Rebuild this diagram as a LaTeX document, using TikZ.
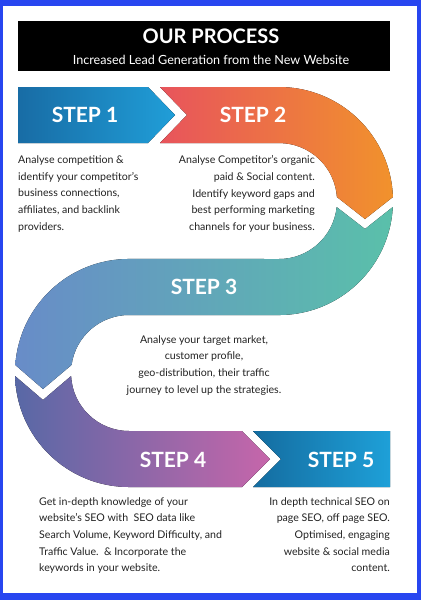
\documentclass[tikz,border=0pt]{standalone}
\usepackage{fontspec}
\setmainfont{Lato}
\definecolor{frameblue}{RGB}{40,70,240}
\definecolor{desctext}{RGB}{34,34,34}
\definecolor{onedark}{RGB}{24,108,165}
\definecolor{onelight}{RGB}{32,158,216}
\definecolor{twored}{RGB}{232,84,92}
\definecolor{twoorange}{RGB}{241,146,44}
\definecolor{threeblue}{RGB}{104,140,200}
\definecolor{threeteal}{RGB}{90,192,170}
\definecolor{fourblue}{RGB}{88,104,166}
\definecolor{fourpink}{RGB}{198,102,170}
\definecolor{fivedark}{RGB}{20,108,160}
\definecolor{fivelight}{RGB}{30,160,216}
\tikzset{
  titletext/.style={text=white,font=\bfseries\fontsize{20}{20}\selectfont,inner sep=0pt},
  subtext/.style={text=white,font=\fontsize{12.6}{12.6}\selectfont,inner sep=0pt},
  steplabel/.style={text=white,font=\bfseries\fontsize{21}{21}\selectfont,inner sep=0pt},
  desc/.style={text=desctext,font=\fontsize{10.6}{16.7}\selectfont,inner sep=0pt}
}

\begin{document}
\begin{tikzpicture}[x=1pt,y=1pt]
\useasboundingbox (0,0) rectangle (421,-600);
\fill[frameblue] (0,0) rectangle (421,-600);
\fill[white] (3,-6) rectangle (417,-593);

% heading
\fill[black] (18,-21) rectangle (390,-71);
\node[titletext, anchor=base] (title) at (211,-43) {OUR PROCESS};
\node[subtext, anchor=base] (subtitle) at (211,-64) {Increased Lead Generation from the New Website};

% the five bands
\fill[left color=onedark, right color=onelight]
  (18,-87) -- (148,-87) -- (175,-115) -- (148,-143) -- (18,-143) -- cycle;
\fill[left color=twored, right color=twoorange]
  (160,-87) -- (279,-87) arc[start angle=90, end angle=2, radius=114]
  -- (365,-219) -- (336.9,-197) arc[start angle=4, end angle=90, radius=58]
  -- (160,-143) -- (187,-115) -- cycle;
\fill[left color=threeblue, right color=threeteal]
  (392.8,-207) arc[start angle=-3, end angle=-90, radius=114]
  -- (129,-315) arc[start angle=90, end angle=172, radius=58]
  -- (43,-389) -- (15.3,-365) arc[start angle=176, end angle=90, radius=114]
  -- (279,-259) arc[start angle=-90, end angle=-6, radius=58]
  -- (365,-229) -- cycle;
\fill[left color=fourblue, right color=fourpink]
  (15.04,-376) arc[start angle=181.5, end angle=270, radius=114]
  -- (242,-487) -- (270,-459) -- (242,-431) -- (129,-431)
  arc[start angle=270, end angle=183, radius=58]
  -- (43,-400) -- cycle;
\fill[left color=fivedark, right color=fivelight]
  (253,-431) -- (390,-431) -- (390,-487) -- (253,-487) -- (281,-459) -- cycle;

% step labels
\node[steplabel, anchor=base] (step1) at (85,-122) {STEP 1};
\node[steplabel, anchor=base] (step2) at (253,-122) {STEP 2};
\node[steplabel, anchor=base] (step3) at (204,-294) {STEP 3};
\node[steplabel, anchor=base] (step4) at (173,-467) {STEP 4};
\node[steplabel, anchor=base] (step5) at (341,-467) {STEP 5};

% descriptions
\node[desc, anchor=north west, align=left] (text1) at (18,-155.5)
  {Analyse competition \&\\identify your competitor’s\\business connections,\\affiliates, and backlink\\providers.};
\node[desc, anchor=north east, align=right] (text2) at (315,-155.5)
  {Analyse Competitor’s organic\\paid \& Social content.\\Identify keyword gaps and\\best performing marketing\\channels for your business.};
\node[desc, anchor=north, align=center] (text3) at (204,-335)
  {Analyse your target market,\\customer profile,\\geo-distribution, their traffic\\journey to level up the strategies.};
\node[desc, anchor=north west, align=left] (text4) at (39,-497)
  {Get in-depth knowledge of your\\website’s SEO with\ \ SEO data like\\Search Volume, Keyword Difficulty, and\\Traffic Value.\ \ \& Incorporate the\\keywords in your website.};
\node[desc, anchor=north east, align=right] (text5) at (390,-497)
  {In depth technical SEO on\\page SEO, off page SEO.\\Optimised, engaging\\website \& social media\\content.};
\end{tikzpicture}
\end{document}
